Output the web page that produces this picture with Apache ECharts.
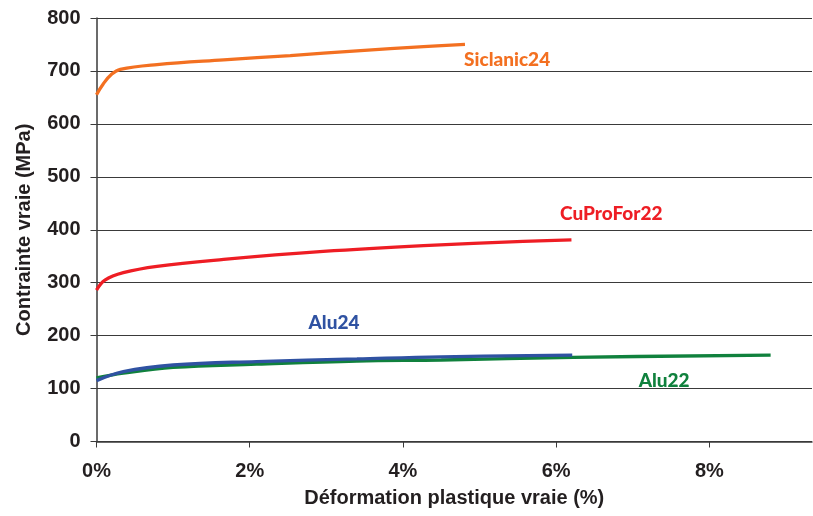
<!DOCTYPE html>
<html>
<head>
<meta charset="utf-8">
<script src="https://cdn.jsdelivr.net/npm/echarts@6/dist/echarts.min.js"></script>
<style>
  html, body { margin: 0; padding: 0; background: #fff; }
  #chart { width: 813px; height: 516px; }
</style>
</head>
<body>
<div id="chart"></div>
<script>
// Strain (%) / true stress (MPa) points
const siclanic24 = [[0, 655], [0.09, 676], [0.2, 694], [0.31, 703], [0.79, 712], [1.66, 721], [2.53, 729], [3.4, 738], [4.27, 746], [4.81, 750]];
const cuProFor22 = [[0, 286], [0.11, 305], [0.35, 319], [0.79, 331], [1.66, 344], [2.96, 359], [4.27, 370], [5.57, 378], [6.2, 381]];
const alu24 = [[0, 115], [0.35, 132], [1.0, 144.5], [2.09, 151], [3.4, 156], [4.5, 160], [6.21, 163]];
const alu22 = [[0, 120], [0.35, 129], [1.0, 140], [2.09, 146], [3.4, 152], [4.5, 154], [6.22, 159], [8.8, 163]];

const seriesNames = ['Siclanic24', 'CuProFor22', 'Alu24', 'Alu22'];
const seriesColors = ['#F37021', '#EE1D24', '#2F52A2', '#10813D'];
// where each curve's name sits, in axis units
const labelCoords = [[5.36, 721], [6.72, 430], [3.1, 224], [7.41, 114]];

const xTicks = [0, 2, 4, 6, 8];

const chart = echarts.init(document.getElementById('chart'));

const axisColor = '#3a3a3a';
const tickFont = {
  fontFamily: 'Liberation Sans, Arial, sans-serif',
  fontWeight: 'bold',
  fontSize: 20,
  color: '#231f20',
};
const titleFont = {
  fontFamily: 'Liberation Sans, Arial, sans-serif',
  fontWeight: 'bold',
  fontSize: 20,
  color: '#231f20',
};

const dataSets = [siclanic24, cuProFor22, alu24, alu22];
const series = dataSets.map((data, i) => ({
  name: seriesNames[i],
  type: 'line',
  data: data,
  smooth: 0.4,
  showSymbol: false,
  lineStyle: { width: 3.3, color: seriesColors[i] },
  z: i === 2 ? 3 : 2,
  markPoint: {
    silent: true,
    symbol: 'circle',
    symbolSize: 1,
    itemStyle: { color: 'rgba(0,0,0,0)' },
    data: [{
      coord: labelCoords[i],
      label: {
        show: true,
        formatter: seriesNames[i],
        position: 'inside',
        fontFamily: 'Lato, Open Sans, sans-serif',
        fontWeight: 900,
        fontSize: 19,
        color: seriesColors[i],
      },
    }],
  },
}));

chart.setOption({
  animation: false,
  grid: {
    left: 96.5,
    right: 1,
    top: 18,
    bottom: 74.5,
    containLabel: false,
  },
  xAxis: {
    type: 'value',
    min: 0,
    max: 9.34,
    interval: 2,
    name: 'Déformation plastique vraie (%)',
    nameLocation: 'middle',
    nameGap: 47,
    nameTextStyle: titleFont,
    axisLine: { show: true, onZero: false, lineStyle: { color: axisColor, width: 1.5 } },
    axisTick: { show: true, length: 6, lineStyle: { color: axisColor } },
    axisLabel: Object.assign({}, tickFont, {
      margin: 20,
      showMaxLabel: false,
      formatter: (v) => (xTicks.includes(v) ? v + '%' : ''),
    }),
    splitLine: { show: false },
  },
  yAxis: {
    type: 'value',
    min: 0,
    max: 800,
    interval: 100,
    name: 'Contrainte vraie (MPa)',
    nameLocation: 'middle',
    nameGap: 62,
    nameTextStyle: titleFont,
    axisLine: { show: true, lineStyle: { color: axisColor, width: 1.5 } },
    axisTick: { show: true, length: 6, lineStyle: { color: axisColor } },
    axisLabel: Object.assign({}, tickFont, { margin: 16 }),
    splitLine: { show: true, lineStyle: { color: axisColor, width: 1.2 } },
  },
  series: series,
});
</script>
</body>
</html>
